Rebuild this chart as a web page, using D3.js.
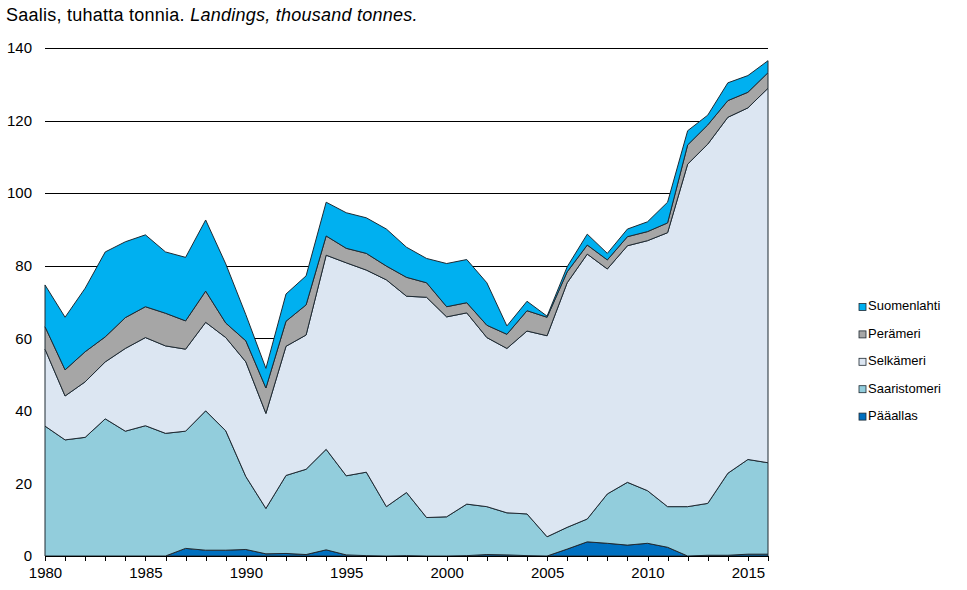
<!DOCTYPE html>
<html>
<head>
<meta charset="utf-8">
<script src="https://cdn.jsdelivr.net/npm/d3@7"></script>
<style>
  body { margin: 0; background: #fff; }
  svg { display: block; font-family: "Liberation Sans", Arial, sans-serif; }
  .area { stroke: #1e2a33; stroke-width: 1; stroke-linejoin: miter; }
  .grid line { stroke: #000; stroke-width: 1; shape-rendering: crispEdges; }
  .axis text { font-size: 15px; fill: #000; }
  .axis line, .axis path { stroke: #000; shape-rendering: crispEdges; }
  .legend text { font-size: 13px; fill: #000; }
</style>
</head>
<body>
<svg id="frame" width="967" height="590"></svg>
<script>
// years on the x axis
const years = d3.range(1980, 2017);

// landings by area, thousand tonnes
const paaallas = [0, 0, 0, 0, 0, 0, 0, 2.1, 1.6, 1.6, 1.8, 0.6, 0.7, 0.4, 1.7, 0.3, 0.1, 0, 0.1, 0,
  0, 0.1, 0.4, 0.3, 0.1, 0, 1.9, 3.9, 3.5, 3.0, 3.5, 2.4, 0, 0.2, 0.2, 0.5, 0.5];
const saaristomeri = [35.8, 32.0, 32.7, 37.8, 34.4, 35.9, 33.8, 32.3, 38.4, 32.9, 20.1, 12.5, 21.5, 23.5, 27.7, 21.8, 23.0, 13.6, 17.4, 10.6,
  10.8, 14.2, 13.2, 11.6, 11.5, 5.3, 6.0, 6.3, 13.6, 17.3, 14.5, 11.2, 13.6, 14.3, 22.6, 26.1, 25.2];
const selkameri = [21.2, 12.1, 15.3, 15.7, 22.8, 24.3, 24.1, 22.6, 24.4, 25.7, 31.6, 26.2, 35.6, 37.0, 53.5, 58.7, 55.7, 62.5, 54.1, 60.7,
  55.1, 52.7, 46.6, 45.3, 50.4, 55.4, 67.4, 73.0, 62.0, 65.2, 68.9, 75.5, 94.4, 99.0, 98.1, 96.9, 103.2];
const perameri = [6.2, 7.2, 8.3, 6.9, 8.5, 8.5, 9.0, 7.8, 8.6, 4.0, 5.8, 7.0, 6.9, 8.3, 5.3, 4.0, 4.6, 3.8, 5.2, 4.0,
  2.8, 2.8, 3.4, 3.9, 5.6, 5.1, 3.0, 2.5, 2.5, 2.5, 2.5, 2.7, 5.3, 5.3, 4.6, 4.3, 4.3];
const suomenlahti = [11.5, 14.5, 17.5, 23.4, 20.9, 19.8, 16.9, 17.5, 19.6, 16.3, 7.2, 5.4, 7.5, 8.0, 9.3, 9.8, 9.8, 10.2, 8.3, 6.7,
  11.9, 11.9, 11.7, 2.3, 2.6, 0.3, 1.4, 3.0, 1.8, 2.1, 2.7, 5.7, 3.9, 2.7, 4.9, 4.6, 3.3];

// stacking order, bottom to top
const seriesNames = ["Pääallas", "Saaristomeri", "Selkämeri", "Perämeri", "Suomenlahti"];
const seriesValues = [paaallas, saaristomeri, selkameri, perameri, suomenlahti];
const seriesColors = ["#0070c0", "#92cddc", "#dce6f2", "#a6a6a6", "#00b0f0"];

const yTicks = [0, 20, 40, 60, 80, 100, 120, 140];
const xLabelYears = [1980, 1985, 1990, 1995, 2000, 2005, 2010, 2015];

const table = years.map((yr, i) => {
  let row = { year: yr };
  seriesNames.forEach((n, k) => row[n] = seriesValues[k][i]);
  return row;
});

const svg = d3.select("#frame");

const x = d3.scaleLinear().domain([1980, 2016]).range([45, 768]);
const y = d3.scaleLinear().domain([0, 140]).range([556, 48]);

// title
const title = svg.append("text")
  .attr("x", 6).attr("y", 21)
  .style("font-size", "18px")
  .style("letter-spacing", "0.25px");
title.append("tspan").text("Saalis, tuhatta tonnia. ");
title.append("tspan").style("font-style", "italic").text("Landings, thousand tonnes.");

// gridlines behind the areas
svg.append("g").attr("class", "grid")
  .selectAll("line")
  .data(yTicks.filter(d => d > 0))
  .join("line")
  .attr("x1", x(1980)).attr("x2", x(2016))
  .attr("y1", d => Math.round(y(d)) + 0.5).attr("y2", d => Math.round(y(d)) + 0.5);

// stacked areas
const stack = d3.stack().keys(seriesNames);
const layers = stack(table);

const area = d3.area()
  .x(d => x(d.data.year))
  .y0(d => y(d[0]))
  .y1(d => y(d[1]));

svg.append("g")
  .selectAll("path")
  .data(layers)
  .join("path")
  .attr("class", "area")
  .attr("fill", (d, i) => seriesColors[i])
  .attr("d", area);

// x axis
const xAxis = d3.axisBottom(x)
  .tickValues(years)
  .tickSize(5)
  .tickSizeOuter(0)
  .tickFormat(d => xLabelYears.includes(d) ? d : "");

svg.append("g").attr("class", "axis")
  .attr("transform", "translate(0,556)")
  .call(xAxis)
  .call(g => g.selectAll("text").attr("y", 11));

// y axis labels only
const yAxis = d3.axisLeft(y).tickValues(yTicks).tickSize(0).tickPadding(13);
svg.append("g").attr("class", "axis")
  .attr("transform", "translate(45,0)")
  .call(yAxis)
  .call(g => g.select(".domain").remove());

// legend, top item is the top series
const legendData = seriesNames.map((n, i) => ({ name: n, color: seriesColors[i] })).reverse();
const legend = svg.append("g").attr("class", "legend")
  .selectAll("g")
  .data(legendData)
  .join("g")
  .attr("transform", (d, i) => `translate(859, ${307 + i * 27.4})`);

legend.append("rect")
  .attr("x", 0).attr("y", -3.5)
  .attr("width", 7).attr("height", 7)
  .attr("fill", d => d.color)
  .attr("stroke", "#1e2a33").attr("stroke-width", 0.8);

legend.append("text")
  .attr("x", 9).attr("y", 0)
  .attr("dominant-baseline", "middle")
  .text(d => d.name);
</script>
</body>
</html>
